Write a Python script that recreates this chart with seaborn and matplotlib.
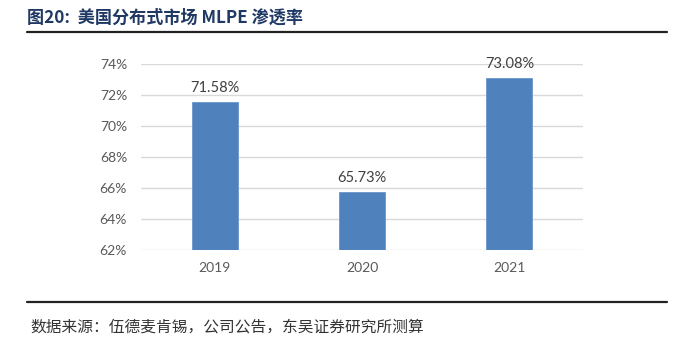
import matplotlib
matplotlib.use("Agg")
import matplotlib.pyplot as plt
import seaborn as sns
import pandas as pd
from matplotlib.lines import Line2D

years = ["2019", "2020", "2021"]
penetration = [71.58, 65.73, 73.08]
yticks = [62, 64, 66, 68, 70, 72, 74]
title = "图20:  美国分布式市场 MLPE 渗透率"
source = "数据来源：伍德麦肯锡，公司公告，东吴证券研究所测算"

sns.set_theme(style="white")
plt.rcParams['font.family'] = ['Noto Sans CJK SC', 'DejaVu Sans']

df = pd.DataFrame({"year": years, "value": penetration})

W, H = 687, 347
fig = plt.figure(figsize=(W / 100, H / 100), dpi=100)
ax = fig.add_axes([141 / W, 1 - 250 / H, (583 - 141) / W, (250 - 64) / H])

sns.barplot(data=df, x="year", y="value", ax=ax, color="#4F81BD",
            width=0.31, edgecolor="#6A95CB", linewidth=0.6, saturation=1, zorder=3)

ax.set_ylim(62, 74)
ax.set_xlim(-0.5, 2.5)
ax.set_yticks(yticks)
ax.set_yticklabels([f"{v}%" for v in yticks])
ax.grid(axis="y", color="#D9D9D9", linewidth=1, zorder=0)
ax.set_axisbelow(True)
for s in ax.spines.values():
    s.set_visible(False)
ax.set_xlabel("")
ax.set_ylabel("")
ax.tick_params(axis="both", length=0, labelsize=10, labelcolor="#595959")
ax.tick_params(axis="y", pad=10)
ax.tick_params(axis="x", pad=9)
for lab in ax.get_xticklabels() + ax.get_yticklabels():
    lab.set_family(["Lato", "DejaVu Sans"])

for i, v in enumerate(penetration):
    ax.annotate(f"{v:.2f}%", (i, v), xytext=(0, 5), textcoords="offset points",
                ha="center", va="bottom", fontsize=10.5, color="#404040",
                family=["Lato", "DejaVu Sans"])

fig.text(27 / W, 1 - 18 / H, title, fontsize=12.3, fontweight="bold",
         color="#1F3864", ha="left", va="center")
fig.add_artist(Line2D([27 / W, 667 / W], [1 - 32 / H, 1 - 32 / H],
                      color="#222222", linewidth=1.6, transform=fig.transFigure))
fig.add_artist(Line2D([27 / W, 667 / W], [1 - 302 / H, 1 - 302 / H],
                      color="#222222", linewidth=1.6, transform=fig.transFigure))
fig.text(30 / W, 1 - 327 / H, source, fontsize=11.3, color="#333333",
         ha="left", va="center")

fig.savefig("out.png", dpi=100)
